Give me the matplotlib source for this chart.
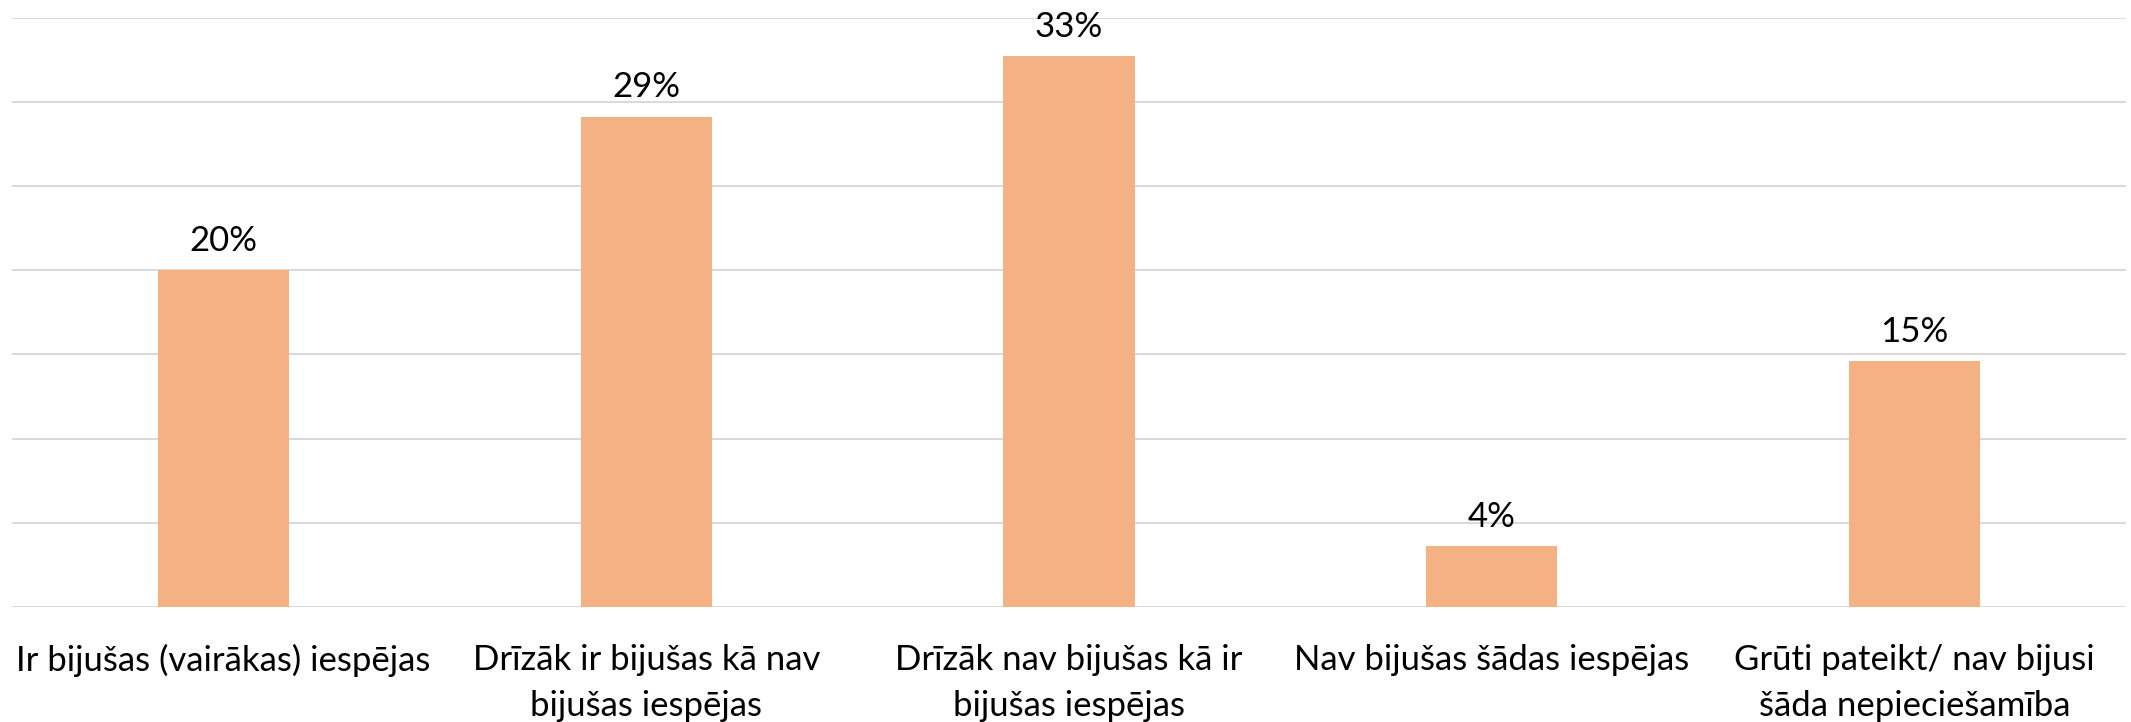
import matplotlib
matplotlib.use("Agg")
import matplotlib.pyplot as plt

categories = [
    "Ir bijušas (vairākas) iespējas",
    "Drīzāk ir bijušas kā nav\nbijušas iespējas",
    "Drīzāk nav bijušas kā ir\nbijušas iespējas",
    "Nav bijušas šādas iespējas",
    "Grūti pateikt/ nav bijusi\nšāda nepieciešamība",
]
values = [20.0, 29.1, 32.7, 3.6, 14.6]
labels = ["20%", "29%", "33%", "4%", "15%"]
y_ticks = [0, 5, 10, 15, 20, 25, 30, 35]

plt.rcParams['font.family'] = ['Lato', 'DejaVu Sans']

fig = plt.figure(figsize=(21.31, 7.22), dpi=100)
ax = fig.add_axes([12 / 2131, 115 / 722, (2126 - 12) / 2131, (704.5 - 115) / 722])

x = list(range(len(categories)))
bars = ax.bar(x, values, width=0.31, color="#F4B183", zorder=3)

for xi, v, lab in zip(x, values, labels):
    ax.annotate(lab, (xi, v), xytext=(0, 14), textcoords="offset points",
                ha="center", va="baseline", fontsize=25, color="#000000")

ax.set_xlim(-0.5, len(categories) - 0.5)
ax.set_ylim(0, 35)
ax.set_yticks(y_ticks)
ax.yaxis.grid(True, color="#D9D9D9", linewidth=1.4, zorder=0)
ax.tick_params(axis="y", left=False, labelleft=False)
ax.tick_params(axis="x", bottom=False, pad=23)
ax.set_xticks(x)
ax.set_xticklabels(categories, fontsize=25, linespacing=1.55, color="#000000")
for s in ax.spines.values():
    s.set_visible(False)

fig.savefig("out.png", dpi=100, facecolor="white")
